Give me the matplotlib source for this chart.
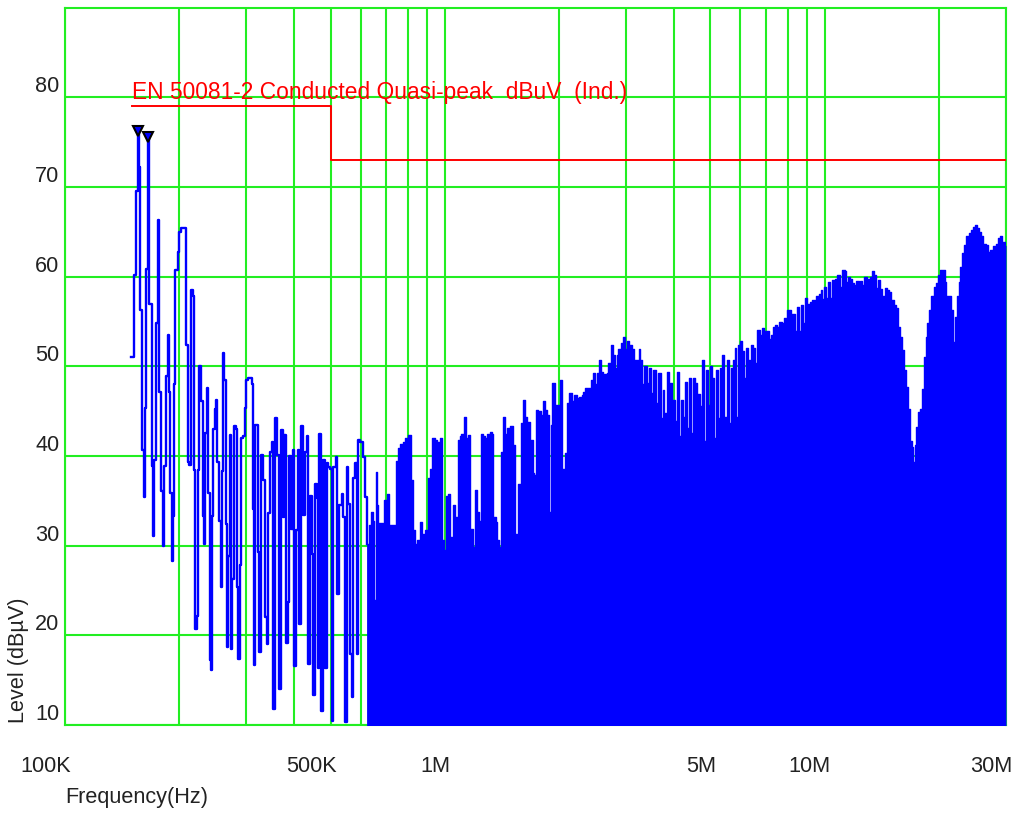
import matplotlib
matplotlib.use('Agg')
import matplotlib.pyplot as plt
from matplotlib import font_manager
from matplotlib.transforms import ScaledTranslation

# low band trace (150K - 620K), drawn as a step line
lo_khz = [149.5, 151.6, 154.0, 155.6, 157.0, 157.8, 159.4, 161.0, 162.0, 163.6,
          165.3, 166.9, 169.2, 171.0, 172.0, 173.8, 175.6, 176.6, 177.3, 179.0,
          181.6, 182.7, 184.6, 186.5, 187.6, 189.1, 191.0, 192.2, 193.3, 195.2,
          198.0, 200.0, 202.0, 208.2, 210.2, 212.4, 214.6, 216.8, 218.0, 220.2,
          222.0, 223.4, 225.6, 227.8, 230.2, 232.4, 233.8, 236.2, 238.6, 240.6,
          242.4, 244.4, 246.0, 248.4, 250.4, 252.0, 254.4, 257.0, 258.6, 260.6,
          262.8, 265.0, 266.4, 268.6, 271.4, 274.2, 275.8, 278.6, 281.2, 283.6,
          285.8, 288.2, 290.0, 294.0, 297.0, 300.0, 303.6, 309.8, 312.2, 314.8,
          316.2, 322.8, 324.8, 328.1, 332.7, 336.1, 339.5, 342.8, 346.3, 349.9,
          353.3, 356.9, 360.6, 366.4, 370.2, 374.0, 377.7, 381.6, 385.5, 389.4,
          393.3, 397.5, 400.6, 404.7, 409.6, 413.7, 418.0, 422.3, 428.2, 432.5,
          436.9, 441.3, 445.9, 450.3, 454.9, 459.6, 464.1, 466.9, 471.7, 476.6,
          483.3, 488.3, 493.1, 498.2, 503.3, 508.3, 516.7, 520.8, 527.1, 534.9,
          540.1, 545.6, 551.3, 556.7, 562.3, 568.2, 573.7, 579.7, 585.6, 589.2,
          597.4, 607.3, 615.8, 622.2]
lo_db = [51.1, 60.2, 69.6, 76.3, 72.2, 56.3, 40.7, 35.4, 45.4, 60.9,
         75.6, 57.0, 38.9, 31.1, 39.6, 54.8, 66.3, 62.8, 47.2, 36.1,
         30.0, 38.9, 48.9, 53.5, 47.2, 35.9, 28.3, 33.3, 48.0, 60.7,
         62.8, 65.0, 65.4, 52.4, 39.3, 39.0, 58.5, 57.8, 38.5, 20.7,
         22.2, 38.5, 50.0, 46.1, 33.3, 30.2, 42.6, 47.6, 35.9, 17.2,
         16.1, 33.3, 43.0, 45.2, 46.3, 39.3, 32.8, 25.4, 38.3, 51.5,
         48.5, 32.4, 18.7, 28.9, 42.4, 18.5, 26.3, 43.3, 43.0, 25.4,
         17.4, 27.8, 42.0, 42.2, 45.4, 48.5, 48.7, 48.0, 34.1, 16.7,
         43.5, 29.3, 18.1, 40.1, 37.3, 22.0, 19.0, 33.6, 40.5, 41.6,
         11.8, 44.2, 40.1, 14.0, 42.9, 33.2, 42.4, 19.2, 23.7, 40.0,
         31.9, 40.7, 16.6, 31.7, 40.7, 21.3, 43.3, 33.4, 40.5, 42.2,
         16.8, 35.6, 29.1, 13.4, 36.9, 35.3, 16.4, 42.5, 11.6, 39.6,
         16.4, 39.2, 38.8, 38.6, 10.4, 38.8, 39.9, 24.6, 34.5, 35.8,
         33.2, 10.3, 38.8, 34.7, 17.9, 13.1, 37.5, 39.2, 17.9, 41.8,
         41.6, 39.9, 35.4, 30.2]

# high band envelope (620K - 30M), drawn filled
hi_khz = [622.2, 631.0, 637.5, 645.2, 651.6, 657.1, 661.1, 667.6, 685.5, 692.3,
          702.4, 713.5, 743.1, 753.6, 761.3, 773.7, 784.7, 800.7, 812.3, 822.2,
          833.9, 845.7, 859.5, 868.3, 886.1, 904.0, 913.2, 924.4, 941.3, 954.6,
          970.1, 980.1, 994, 1006, 1020, 1031, 1041, 1051, 1062, 1080,
          1095, 1106, 1122, 1136, 1147, 1163, 1183, 1199, 1216, 1231,
          1243, 1261, 1274, 1292, 1313, 1327, 1340, 1362, 1373, 1390,
          1404, 1424, 1439, 1458, 1483, 1507, 1528, 1544, 1559, 1582,
          1607, 1624, 1641, 1674, 1702, 1715, 1736, 1760, 1786, 1814,
          1833, 1858, 1881, 1897, 1920, 1947, 1975, 2007, 2028, 2040,
          2069, 2091, 2124, 2155, 2186, 2222, 2257, 2290, 2303, 2336,
          2383, 2418, 2448, 2482, 2507, 2543, 2569, 2600, 2621, 2664,
          2690, 2734, 2773, 2802, 2830, 2858, 2900, 2935, 2977, 3008,
          3055, 3100, 3143, 3195, 3239, 3273, 3305, 3346, 3395, 3442,
          3485, 3534, 3592, 3642, 3695, 3741, 3777, 3832, 3879, 3910,
          3965, 4023, 4072, 4121, 4172, 4222, 4274, 4326, 4379, 4441,
          4486, 4549, 4613, 4690, 4756, 4814, 4863, 4932, 4983, 5044,
          5105, 5168, 5230, 5294, 5368, 5433, 5513, 5580, 5648, 5717,
          5787, 5832, 5913, 6000, 6058, 6131, 6221, 6282, 6346, 6412,
          6474, 6569, 6650, 6743, 6839, 6923, 7024, 7122, 7210, 7285,
          7387, 7491, 7582, 7694, 7802, 7897, 7960, 8092, 8140, 8222,
          8339, 8456, 8560, 8647, 8769, 8860, 8984, 9132, 9282, 9413,
          9511, 9661, 9761, 9838, 9958, 10100, 10200, 10350, 10480, 10620,
          10780, 10950, 11100, 11290, 11400, 11540, 11680, 11830, 11970, 12120,
          12270, 12410, 12570, 12720, 12880, 13030, 13190, 13350, 13480, 13680,
          13810, 14010, 14180, 14380, 14580, 14760, 14980, 15190, 15370, 15590,
          15820, 16010, 16170, 16330, 16560, 16740, 16940, 17080, 17250, 17430,
          17600, 17780, 18040, 18250, 18440, 18630, 18810, 19090, 19350, 19670,
          19920, 20160, 20480, 20700, 20910, 21240, 21550, 21760, 21980, 22300,
          22560, 22760, 23040, 23260, 23600, 23930, 24230, 24570, 24930, 25170,
          25480, 25740, 26100, 26530, 26900, 27300, 27730, 28180, 28580, 29000,
          29350, 29760, 30000]
hi_db = [30.2, 32.3, 33.8, 32.8, 23.9, 38.2, 34.5, 32.5, 31.7, 35.1,
         35.8, 32.3, 39.4, 40.9, 41.4, 41.6, 42.0, 42.4, 37.3, 31.7,
         30.2, 30.6, 32.6, 31.3, 31.7, 37.5, 38.6, 42.0, 41.8, 41.6,
         42.0, 30.6, 29.5, 35.6, 35.8, 31.0, 30.6, 34.5, 33.2, 41.8,
         42.2, 42.5, 44.4, 42.0, 42.4, 31.9, 29.9, 36.2, 33.8, 32.8,
         42.5, 42.2, 42.0, 42.5, 42.7, 42.5, 33.2, 32.6, 30.6, 29.9,
         40.5, 44.4, 42.5, 43.1, 43.3, 41.2, 31.3, 30.4, 36.9, 43.7,
         46.3, 44.4, 43.8, 41.8, 38.1, 37.9, 45.1, 45.0, 44.6, 46.1,
         45.1, 44.6, 33.8, 43.5, 48.1, 45.7, 45.7, 48.5, 48.5, 38.6,
         40.3, 45.9, 47.0, 46.1, 46.8, 46.5, 46.6, 46.8, 47.2, 47.6,
         47.6, 48.5, 49.3, 48.0, 49.3, 50.7, 49.4, 47.4, 49.1, 49.3,
         50.4, 52.4, 51.3, 49.8, 51.3, 51.9, 52.6, 53.3, 51.9, 52.8,
         52.4, 51.9, 50.7, 50.7, 51.9, 50.7, 48.0, 50.0, 48.1, 49.8,
         47.0, 49.6, 45.9, 49.3, 44.3, 47.4, 44.8, 49.4, 44.4, 48.1,
         46.3, 43.9, 49.4, 42.2, 46.3, 44.4, 48.3, 43.1, 48.7, 42.6,
         48.7, 48.1, 46.9, 45.6, 50.7, 41.7, 49.6, 45.7, 50.0, 48.7,
         42.0, 49.6, 44.3, 49.8, 51.3, 44.4, 50.7, 43.7, 49.8, 50.7,
         52.0, 44.4, 52.4, 52.8, 51.7, 48.7, 52.0, 50.7, 48.7, 52.4,
         52.0, 50.4, 54.1, 53.5, 54.3, 53.9, 53.9, 53.1, 53.5, 54.4,
         54.6, 54.4, 55.0, 54.8, 55.4, 54.4, 56.3, 56.3, 53.1, 55.9,
         53.9, 56.6, 54.0, 56.8, 54.8, 57.6, 57.0, 57.2, 57.4, 57.0,
         57.8, 58.1, 58.5, 57.5, 58.9, 57.6, 59.4, 57.6, 59.6, 59.8,
         60.2, 58.9, 60.7, 60.6, 59.4, 60.0, 59.8, 59.3, 59.1, 59.5,
         59.1, 59.5, 59.1, 60.0, 58.9, 59.8, 60.0, 60.6, 60.2, 58.7,
         59.6, 58.6, 57.8, 58.7, 58.5, 58.3, 57.4, 56.8, 56.5, 54.4,
         53.3, 51.8, 49.6, 47.7, 45.3, 41.7, 41.0, 39.3, 41.2, 43.2,
         44.9, 45.3, 47.5, 51.0, 53.3, 54.8, 56.3, 57.8, 58.9, 59.3,
         60.2, 60.8, 60.7, 59.4, 57.9, 57.9, 56.3, 52.7, 55.5, 57.8,
         59.4, 61.1, 62.6, 63.5, 64.5, 64.9, 65.2, 65.6, 65.8, 65.4,
         65.0, 64.5, 63.7, 63.6, 62.8, 63.0, 63.4, 63.7, 64.3, 64.5,
         63.9, 63.5, 63.5]

limit_khz = [150, 500, 500, 30000]
limit_db = [79, 79, 73, 73]
limit_name = 'EN 50081-2 Conducted Quasi-peak  dBuV  (Ind.)'

peak_khz = [155.6, 165.3]
peak_db = [76.3, 75.6]

xtick_hz = [1e5, 5e5, 1e6, 5e6, 1e7, 3e7]
xtick_lbl = ['100K', '500K', '1M', '5M', '10M', '30M']
ytick_db = [10, 20, 30, 40, 50, 60, 70, 80]

# a narrow sans face if there is one, else the regular one
names = {f.name for f in font_manager.fontManager.ttflist}
narrow = 'Liberation Sans Narrow' in names
plt.rcParams['font.family'] = (['Liberation Sans Narrow'] if narrow else []) + ['Liberation Sans', 'DejaVu Sans']
k = 1.0 if narrow else 0.82

GRID = '#22ee22'
TXT = '#222222'

fig = plt.figure(figsize=(10.17, 8.15), dpi=100)
ax = fig.add_axes([0.0639, 0.1104, 0.9253, 0.880])

lo_hz = [f * 1e3 for f in lo_khz]
hi_hz = [f * 1e3 for f in hi_khz]

ax.step(lo_hz, lo_db, where='post', color='#0000ff', lw=1.7, zorder=3)
ax.fill_between(hi_hz, hi_db, 0, step='post', color='#0000ff', lw=0, zorder=3)
ax.step(hi_hz, hi_db, where='post', color='#0000ff', lw=1.0, zorder=3)

ax.plot([f * 1e3 for f in limit_khz], limit_db, color='#ff0000', lw=1.4, zorder=4)
ax.text(limit_khz[0] * 1e3, limit_db[0] + 0.3, limit_name, color='#ff0000',
        fontsize=20 * k, ha='left', va='bottom', zorder=5)

ax.plot([f * 1e3 for f in peak_khz], peak_db, ls='none', marker='v', ms=7,
        mfc='#0000ff', mec='black', mew=1.5, zorder=6)

ax.set_xscale('log')
ax.set_xlim(1e5, 3e7)
ax.set_ylim(10, 90)

ax.set_xticks(xtick_hz)
ax.set_xticklabels(xtick_lbl)
ax.set_yticks(ytick_db)
ax.grid(True, which='both', axis='x', color=GRID, lw=1.5, zorder=1)
ax.grid(True, which='major', axis='y', color=GRID, lw=1.5, zorder=1)
ax.tick_params(which='both', length=0, colors=TXT, labelsize=19 * k)
ax.tick_params(axis='x', pad=22)
ax.tick_params(axis='y', pad=4)
ax.set_axisbelow(True)

for lbl in ax.get_xticklabels():
    lbl.set_ha('right')
    lbl.set_transform(lbl.get_transform() + ScaledTranslation(0.06, 0, fig.dpi_scale_trans))
for lbl in ax.get_yticklabels():
    lbl.set_va('bottom')

for s in ax.spines.values():
    s.set_color(GRID)
    s.set_linewidth(1.5)

fig.text(0.018, 0.1125, 'Level (dBµV)', rotation=90, ha='center', va='bottom',
         fontsize=19 * k, color=TXT)
fig.text(0.0639, 0.021, 'Frequency(Hz)', ha='left', va='center', fontsize=19 * k, color=TXT)

fig.savefig('out.png', dpi=100)
